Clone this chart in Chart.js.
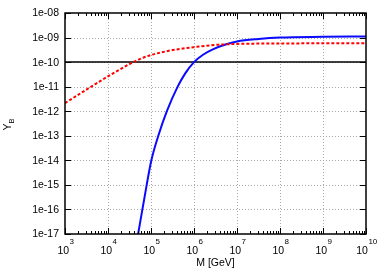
<!DOCTYPE html>
<html>
<head>
<meta charset="utf-8">
<script src="https://cdn.jsdelivr.net/npm/chart.js@4"></script>
<style>
  html, body { margin: 0; padding: 0; background: #fff; }
  #wrap { width: 385px; height: 270px; }
</style>
</head>
<body>
<div id="wrap"><canvas id="chart" width="385" height="270"></canvas></div>
<script>
// axis decades (powers of ten)
const massExponents = [3, 4, 5, 6, 7, 8, 9, 10];
const ybExponents = [-17, -16, -15, -14, -13, -12, -11, -10, -9, -8];

// red dashed curve
const redMass = [1e3, 3.16e3, 1e4, 3.16e4, 5.62e4, 1e5, 1.78e5, 3.16e5, 1e6, 3.16e6, 1e7, 3.16e7, 1e8, 1e9, 1e10];
const redYB = [2.14e-12, 7.59e-12, 2.63e-11, 8.32e-11, 1.35e-10, 1.95e-10, 2.51e-10, 3.09e-10, 4.07e-10, 5.01e-10, 5.5e-10, 5.69e-10, 5.75e-10, 5.82e-10, 5.82e-10];

// blue solid curve
const blueMass = [5.01e4, 6.31e4, 7.94e4, 1.02e5, 1.48e5, 2.34e5, 4.17e5, 6.31e5, 1e6, 1.62e6, 2.82e6, 5.62e6, 1e7, 3.16e7, 1e8, 1e9, 1e10];
const blueYB = [1e-17, 1e-16, 1e-15, 1e-14, 1e-13, 1e-12, 1e-11, 3.55e-11, 1e-10, 2.0e-10, 3.39e-10, 5.37e-10, 6.92e-10, 8.71e-10, 1.0e-9, 1.07e-9, 1.1e-9];

// black reference line
const refMass = [1e3, 1e10];
const refYB = [1e-10, 1e-10];

const toXY = (xs, ys) => xs.map((x, i) => ({ x: x, y: ys[i] }));

const FONT = '"Liberation Sans", Arial, sans-serif';

// frame, grid, ticks and labels in gnuplot style
const gnuFrame = {
    id: 'gnuFrame',
    beforeDatasetsDraw(chart) {
        const { ctx, chartArea: a, scales: { x, y } } = chart;
        ctx.save();
        ctx.strokeStyle = '#a8a8a8';
        ctx.lineWidth = 1;
        ctx.setLineDash([1, 2]);
        massExponents.slice(1, -1).forEach(e => {
            const px = Math.round(x.getPixelForValue(10 ** e)) + 0.5;
            ctx.beginPath(); ctx.moveTo(px, a.top); ctx.lineTo(px, a.bottom); ctx.stroke();
        });
        ybExponents.slice(1, -1).forEach(e => {
            const py = Math.round(y.getPixelForValue(10 ** e)) + 0.5;
            ctx.beginPath(); ctx.moveTo(a.left, py); ctx.lineTo(a.right, py); ctx.stroke();
        });
        ctx.restore();
    },
    afterDatasetsDraw(chart) {
        const { ctx, chartArea: a, scales: { x, y } } = chart;
        ctx.save();
        ctx.strokeStyle = '#000';
        ctx.lineWidth = 1;

        // x ticks: major + minor, bottom and top
        ctx.beginPath();
        massExponents.forEach((e, i) => {
            const px = Math.round(x.getPixelForValue(10 ** e)) + 0.5;
            ctx.moveTo(px, a.bottom); ctx.lineTo(px, a.bottom - 6);
            ctx.moveTo(px, a.top); ctx.lineTo(px, a.top + 6);
            if (i < massExponents.length - 1) {
                for (let m = 2; m <= 9; m++) {
                    const mx = Math.round(x.getPixelForValue(m * 10 ** e)) + 0.5;
                    ctx.moveTo(mx, a.bottom); ctx.lineTo(mx, a.bottom - 3);
                    ctx.moveTo(mx, a.top); ctx.lineTo(mx, a.top + 3);
                }
            }
        });
        // y ticks: left and right
        ybExponents.forEach(e => {
            const py = Math.round(y.getPixelForValue(10 ** e)) + 0.5;
            ctx.moveTo(a.left, py); ctx.lineTo(a.left + 6, py);
            ctx.moveTo(a.right, py); ctx.lineTo(a.right - 6, py);
        });
        ctx.stroke();

        // frame
        ctx.lineWidth = 1.5;
        ctx.strokeRect(a.left, a.top, a.right - a.left, a.bottom - a.top);

        // y tick labels
        ctx.fillStyle = '#000';
        ctx.font = '10.5px ' + FONT;
        ctx.textAlign = 'right';
        ctx.textBaseline = 'middle';
        ybExponents.forEach(e => {
            const py = y.getPixelForValue(10 ** e);
            const n = Math.abs(e);
            const label = '1e' + (e < 0 ? '-' : '+') + (n < 10 ? '0' + n : '' + n);
            ctx.fillText(label, a.left - 6, py + 0.5);
        });

        // x tick labels 10^n
        ctx.textAlign = 'left';
        ctx.textBaseline = 'alphabetic';
        massExponents.forEach(e => {
            const px = x.getPixelForValue(10 ** e);
            ctx.font = '10.5px ' + FONT;
            const wBase = ctx.measureText('10').width;
            ctx.font = '8px ' + FONT;
            const wExp = ctx.measureText(String(e)).width;
            const start = px - (wBase + wExp) / 2 + 0.5;
            ctx.font = '10.5px ' + FONT;
            ctx.fillText('10', start, 254);
            ctx.font = '8px ' + FONT;
            ctx.fillText(String(e), start + wBase + 0.5, 244);
        });

        // x axis title
        ctx.font = '10.5px ' + FONT;
        ctx.textAlign = 'center';
        ctx.fillText('M [GeV]', (a.left + a.right) / 2, 266);

        // y axis title Y_B, rotated
        ctx.translate(10.5, 124.5);
        ctx.rotate(-Math.PI / 2);
        ctx.textAlign = 'left';
        ctx.font = '10.5px ' + FONT;
        const wY = ctx.measureText('Y').width;
        ctx.font = '7.5px ' + FONT;
        const wB = ctx.measureText('B').width;
        const s = -(wY + wB) / 2;
        ctx.font = '10.5px ' + FONT;
        ctx.fillText('Y', s, 0);
        ctx.font = '7.5px ' + FONT;
        ctx.fillText('B', s + wY, 3);
        ctx.restore();
    }
};

const ctx = document.getElementById('chart').getContext('2d');

new Chart(ctx, {
    type: 'line',
    data: {
        datasets: [
            {
                label: 'ref',
                data: toXY(refMass, refYB),
                borderColor: '#000000',
                borderWidth: 1.5,
                pointRadius: 0,
                order: 3
            },
            {
                label: 'blue',
                data: toXY(blueMass, blueYB),
                borderColor: '#0a0aff',
                borderWidth: 2,
                pointRadius: 0,
                cubicInterpolationMode: 'monotone',
                order: 2
            },
            {
                label: 'red',
                data: toXY(redMass, redYB),
                borderColor: '#ff0000',
                borderWidth: 2,
                borderDash: [3, 2],
                pointRadius: 0,
                cubicInterpolationMode: 'monotone',
                order: 1
            }
        ]
    },
    options: {
        responsive: false,
        animation: false,
        devicePixelRatio: 1,
        layout: { padding: { left: 65, right: 19, top: 13, bottom: 36 } },
        scales: {
            x: { type: 'logarithmic', min: 1e3, max: 1e10, display: false },
            y: { type: 'logarithmic', min: 1e-17, max: 1e-8, display: false }
        },
        plugins: {
            legend: { display: false },
            tooltip: { enabled: false }
        }
    },
    plugins: [gnuFrame]
});
</script>
</body>
</html>
